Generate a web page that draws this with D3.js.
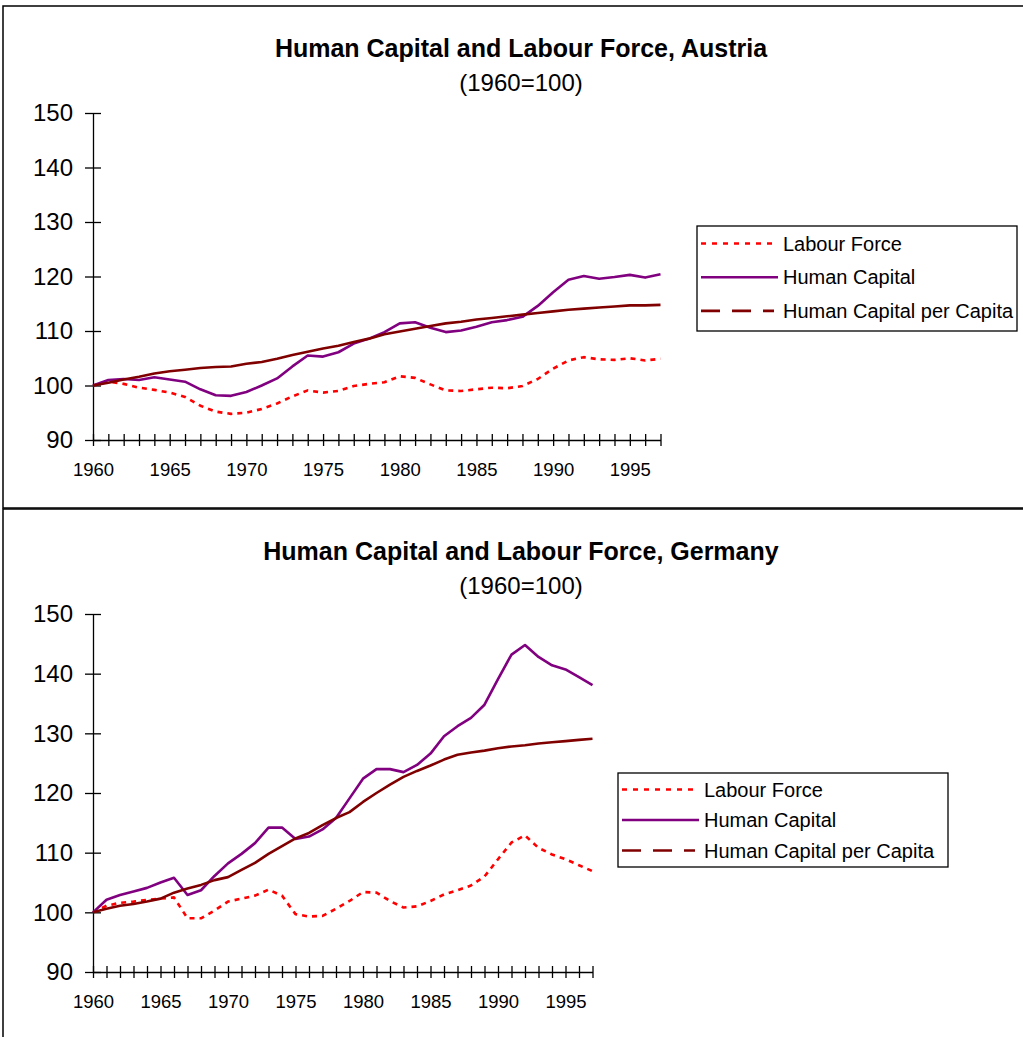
<!DOCTYPE html>
<html>
<head>
<meta charset="utf-8">
<script src="https://d3js.org/d3.v7.min.js"></script>
<style>
  html, body { margin: 0; padding: 0; background: #fff; }
  svg { display: block; font-family: "Liberation Sans", Arial, sans-serif; }
</style>
</head>
<body>
<div id="chart"></div>
<script>
// categories
const years = [1960, 1961, 1962, 1963, 1964, 1965, 1966, 1967, 1968, 1969,
               1970, 1971, 1972, 1973, 1974, 1975, 1976, 1977, 1978, 1979,
               1980, 1981, 1982, 1983, 1984, 1985, 1986, 1987, 1988, 1989,
               1990, 1991, 1992, 1993, 1994, 1995, 1996, 1997];
const xTickLabels = [1960, 1965, 1970, 1975, 1980, 1985, 1990, 1995];
const yTicks = [90, 100, 110, 120, 130, 140, 150];
const seriesNames = ["Labour Force", "Human Capital", "Human Capital per Capita"];

// Austria (1960=100)
const austriaLabour = [100.0, 100.7, 100.3, 99.6, 99.2, 98.7, 97.9, 96.3, 95.2, 94.8,
                       95.0, 95.7, 96.7, 98.0, 99.1, 98.7, 99.0, 99.9, 100.3, 100.6,
                       101.7, 101.4, 100.2, 99.1, 99.0, 99.3, 99.6, 99.5, 99.9, 101.2,
                       103.1, 104.6, 105.2, 104.8, 104.7, 105.0, 104.6, 104.9];
const austriaHuman = [100.0, 101.0, 101.2, 101.0, 101.5, 101.1, 100.7, 99.3, 98.2, 98.1,
                      98.8, 100.0, 101.3, 103.5, 105.5, 105.3, 106.1, 107.7, 108.6, 109.8,
                      111.4, 111.6, 110.6, 109.8, 110.1, 110.8, 111.6, 112.0, 112.6, 114.6,
                      117.1, 119.4, 120.1, 119.6, 119.9, 120.3, 119.8, 120.4];
const austriaPerCapita = [100.0, 100.5, 101.1, 101.6, 102.2, 102.6, 102.9, 103.2, 103.4, 103.5,
                          104.0, 104.3, 104.9, 105.6, 106.2, 106.8, 107.3, 108.0, 108.6, 109.4,
                          109.9, 110.4, 110.9, 111.4, 111.7, 112.1, 112.4, 112.7, 113.0, 113.3,
                          113.6, 113.9, 114.1, 114.3, 114.5, 114.7, 114.7, 114.8];

// Germany (1960=100)
const germanyLabour = [100.0, 101.1, 101.6, 101.8, 102.1, 102.3, 102.5, 99.0, 99.0, 100.3,
                       101.8, 102.3, 102.8, 103.8, 102.8, 99.7, 99.3, 99.4, 100.6, 101.9,
                       103.4, 103.3, 101.9, 100.8, 101.0, 101.9, 103.0, 103.7, 104.5, 106.0,
                       108.9, 111.7, 112.9, 110.8, 109.7, 108.9, 107.9, 106.9];
const germanyHuman = [100.0, 102.1, 102.9, 103.5, 104.1, 105.0, 105.8, 102.9, 103.7, 106.1,
                      108.2, 109.8, 111.6, 114.2, 114.2, 112.3, 112.7, 113.9, 115.8, 119.1,
                      122.4, 124.0, 124.0, 123.5, 124.7, 126.6, 129.5, 131.2, 132.6, 134.8,
                      139.1, 143.2, 144.8, 142.8, 141.4, 140.7, 139.4, 138.1];
const germanyPerCapita = [100.0, 100.6, 101.1, 101.4, 101.8, 102.3, 103.3, 104.0, 104.6, 105.4,
                          105.9, 107.1, 108.3, 109.8, 111.1, 112.4, 113.3, 114.6, 115.8, 116.8,
                          118.5, 120.0, 121.4, 122.7, 123.7, 124.6, 125.6, 126.4, 126.8, 127.1,
                          127.5, 127.8, 128.0, 128.3, 128.5, 128.7, 128.9, 129.1];

const styles = [
  { color: "#ff0000", dash: "5,5", legendDash: "5,6" },
  { color: "#800080", dash: null, legendDash: null },
  { color: "#800000", dash: null, legendDash: "19,12,19,12,11,4,2,20" }
];

const width = 1023, height = 1037;
const svg = d3.select("#chart").append("svg")
    .attr("width", width)
    .attr("height", height);

// panel frames
svg.append("rect").attr("x", 3).attr("y", 6).attr("width", 1040).attr("height", 502)
    .attr("fill", "none").attr("stroke", "#000").attr("stroke-width", 1.5);
svg.append("rect").attr("x", 3).attr("y", 509).attr("width", 1040).attr("height", 560)
    .attr("fill", "none").attr("stroke", "#000").attr("stroke-width", 1.5);

function drawPanel(cfg) {
  const g = svg.append("g");
  const x = d3.scaleLinear().domain([1960, 1997]).range([cfg.left, cfg.right]);
  const y = d3.scaleLinear().domain([90, 150]).range([cfg.bottom, cfg.top]);

  g.append("text")
      .attr("x", 521).attr("y", cfg.titleY)
      .attr("text-anchor", "middle")
      .attr("font-size", 25).attr("font-weight", "bold")
      .text(cfg.title);
  g.append("text")
      .attr("x", 521).attr("y", cfg.titleY + 34)
      .attr("text-anchor", "middle")
      .attr("font-size", 24)
      .text("(1960=100)");

  // y axis, ticks cross the line
  const yAxis = g.append("g")
      .attr("transform", "translate(" + cfg.left + ",0)")
      .call(d3.axisLeft(y).tickValues(yTicks).tickSize(8).tickSizeOuter(0).tickPadding(12));
  yAxis.selectAll(".tick line").attr("x1", 8);
  yAxis.selectAll("text").attr("font-size", 24).attr("fill", "#000")
      .attr("font-family", "Liberation Sans, Arial, sans-serif");

  // x axis, one tick per year, label every 5
  const xAxis = g.append("g")
      .attr("transform", "translate(0," + cfg.bottom + ")")
      .call(d3.axisBottom(x).tickValues(years).tickSize(6).tickSizeOuter(0).tickPadding(17)
        .tickFormat(d => xTickLabels.includes(d) ? String(d) : ""));
  xAxis.selectAll(".tick line").attr("y1", -6);
  xAxis.selectAll("text").attr("font-size", 18.5).attr("fill", "#000")
      .attr("font-family", "Liberation Sans, Arial, sans-serif");
  g.selectAll(".domain, .tick line").attr("stroke", "#000").attr("stroke-width", 1.3);

  const line = d3.line()
      .x((d, i) => x(years[i]))
      .y(d => y(d));

  cfg.series.forEach((vals, i) => {
    g.append("path")
        .datum(vals)
        .attr("d", line)
        .attr("fill", "none")
        .attr("stroke", styles[i].color)
        .attr("stroke-width", 2.6)
        .attr("stroke-linejoin", "round")
        .attr("stroke-dasharray", styles[i].dash);
  });

  // legend
  const lg = g.append("g");
  lg.append("rect")
      .attr("x", cfg.legend.x).attr("y", cfg.legend.y)
      .attr("width", cfg.legend.w).attr("height", cfg.legend.h)
      .attr("fill", "#fff").attr("stroke", "#000").attr("stroke-width", 1.3);
  seriesNames.forEach((name, i) => {
    const ly = cfg.legend.y + cfg.legend.first + i * cfg.legend.step;
    lg.append("line")
        .attr("x1", cfg.legend.x + 4).attr("x2", cfg.legend.x + 81)
        .attr("y1", ly).attr("y2", ly)
        .attr("stroke", styles[i].color)
        .attr("stroke-width", 2.6)
        .attr("stroke-dasharray", styles[i].legendDash);
    lg.append("text")
        .attr("x", cfg.legend.x + 86).attr("y", ly + 7)
        .attr("font-size", 20)
        .text(name);
  });
}

drawPanel({
  title: "Human Capital and Labour Force, Austria",
  titleY: 57,
  left: 93, right: 660.5, top: 113, bottom: 440,
  series: [austriaLabour, austriaHuman, austriaPerCapita],
  legend: { x: 697, y: 226, w: 320, h: 105, first: 17.5, step: 33.7 }
});

drawPanel({
  title: "Human Capital and Labour Force, Germany",
  titleY: 560,
  left: 93, right: 592.5, top: 614, bottom: 972,
  series: [germanyLabour, germanyHuman, germanyPerCapita],
  legend: { x: 618, y: 773, w: 330, h: 94, first: 16.5, step: 30.5 }
});
</script>
</body>
</html>
